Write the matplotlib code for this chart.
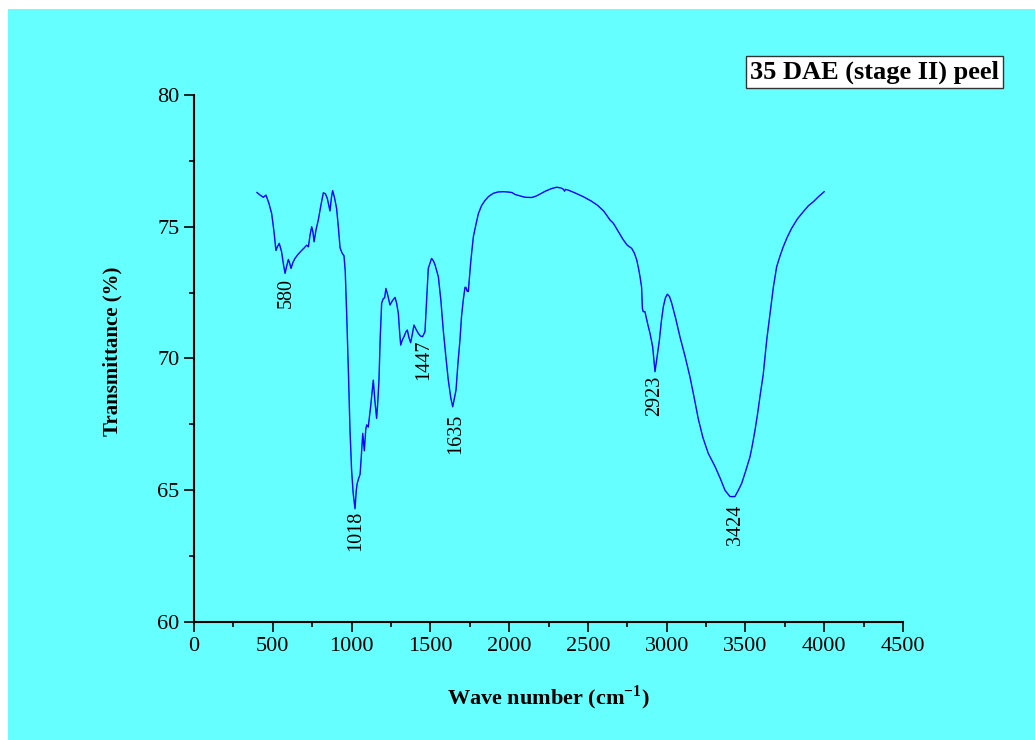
import numpy as np
import matplotlib
matplotlib.use("Agg")
import matplotlib.pyplot as plt
from matplotlib.patches import Rectangle
from matplotlib.ticker import MultipleLocator

# ---- data ----
wavenumber = [
    400, 420, 440, 457, 475, 493, 508, 520, 530, 541, 556, 567, 578, 588, 599, 608, 616, 628,
    641, 660, 683, 700, 715, 726, 737, 747, 755, 762, 775, 789, 805, 821, 834, 846, 856, 863,
    872, 880, 892, 905, 916, 927, 940, 952, 960, 969, 980, 990, 1000, 1010, 1022, 1030, 1036,
    1045, 1054, 1062, 1071, 1081, 1090, 1096, 1106, 1114, 1121, 1130, 1138, 1148, 1159, 1166,
    1174, 1182, 1191, 1202, 1210, 1218, 1230, 1244, 1260, 1276, 1286, 1297, 1305, 1312, 1322,
    1333, 1344, 1354, 1364, 1375, 1385, 1396, 1410, 1424, 1438, 1451, 1466, 1477, 1487, 1497,
    1508, 1520, 1530, 1551, 1567, 1582, 1598, 1614, 1630, 1642, 1653, 1663, 1675, 1688, 1698,
    1709, 1720, 1726, 1734, 1741, 1757, 1773, 1790, 1805, 1825, 1847, 1870, 1900, 1930, 1964,
    1990, 2017, 2040, 2069, 2100, 2143, 2170, 2196, 2230, 2270, 2302, 2330, 2345, 2352, 2358,
    2380, 2420, 2471, 2520, 2560, 2600, 2640, 2662, 2690, 2725, 2750, 2778, 2795, 2810, 2822,
    2831, 2841, 2846, 2851, 2862, 2880, 2894, 2911, 2926, 2940, 2954, 2966, 2979, 2992, 3004,
    3018, 3032, 3058, 3084, 3116, 3148, 3175, 3201, 3230, 3264, 3290, 3307, 3340, 3370, 3402,
    3433, 3455, 3476, 3500, 3529, 3545, 3561, 3577, 3592, 3613, 3635, 3656, 3677, 3698, 3720,
    3740, 3765, 3793, 3830, 3867, 3900, 3931, 3965, 4000,
]
transmittance = [
    76.30, 76.20, 76.12, 76.20, 75.90, 75.50, 74.80, 74.10, 74.25, 74.37, 74.05, 73.60, 73.23,
    73.50, 73.76, 73.60, 73.42, 73.65, 73.80, 73.95, 74.10, 74.20, 74.30, 74.24, 74.70, 75.00,
    74.80, 74.43, 74.90, 75.26, 75.80, 76.29, 76.25, 76.08, 75.80, 75.60, 76.10, 76.37, 76.10,
    75.70, 75.00, 74.20, 74.00, 73.90, 73.30, 71.70, 69.50, 67.30, 65.80, 64.90, 64.30, 65.00,
    65.26, 65.45, 65.60, 66.30, 67.16, 66.50, 67.30, 67.48, 67.40, 67.80, 68.17, 68.70, 69.18,
    68.40, 67.73, 68.30, 69.18, 70.80, 72.10, 72.28, 72.30, 72.66, 72.40, 72.03, 72.20, 72.32,
    72.10, 71.71, 71.00, 70.51, 70.70, 70.83, 71.00, 71.08, 70.80, 70.60, 70.90, 71.27, 71.10,
    70.95, 70.85, 70.83, 71.02, 72.30, 73.42, 73.60, 73.80, 73.70, 73.55, 73.10, 72.20, 71.08,
    70.10, 69.18, 68.50, 68.17, 68.50, 68.80, 69.80, 70.70, 71.60, 72.22, 72.70, 72.70, 72.55,
    72.54, 73.70, 74.62, 75.10, 75.50, 75.80, 76.00, 76.15, 76.27, 76.32, 76.33, 76.32, 76.30,
    76.22, 76.17, 76.12, 76.11, 76.16, 76.24, 76.35, 76.45, 76.50, 76.47, 76.42, 76.35, 76.42,
    76.38, 76.28, 76.14, 75.98, 75.82, 75.60, 75.26, 75.13, 74.85, 74.50, 74.30, 74.18, 74.00,
    73.74, 73.40, 73.10, 72.70, 71.90, 71.78, 71.78, 71.30, 70.96, 70.45, 69.50, 70.10, 70.70,
    71.40, 71.97, 72.30, 72.44, 72.35, 72.10, 71.50, 70.83, 70.10, 69.30, 68.50, 67.70, 67.00,
    66.40, 66.10, 65.90, 65.45, 65.00, 64.76, 64.76, 65.00, 65.26, 65.70, 66.27, 66.75, 67.29,
    67.90, 68.55, 69.40, 70.70, 71.70, 72.70, 73.48, 73.90, 74.24, 74.60, 74.94, 75.30, 75.57,
    75.80, 75.95, 76.15, 76.33,
]
peak_labels = [580, 1018, 1447, 1635, 2923, 3424]
x_ticks = [0, 500, 1000, 1500, 2000, 2500, 3000, 3500, 4000, 4500]
y_ticks = [60, 65, 70, 75, 80]
title_text = "35 DAE (stage II) peel"

# label offsets in points (style, not data)
label_offsets = {580: (0.5, -3), 1018: (0.5, -1.5), 1447: (1, -2), 1635: (2.5, -5),
                 2923: (0, -3), 3424: (4, -6)}

# ---- style ----
plt.rcParams['font.family'] = ['Liberation Serif', 'DejaVu Serif']
plt.rcParams['mathtext.fontset'] = 'custom'
plt.rcParams['mathtext.rm'] = 'Liberation Serif'
plt.rcParams['mathtext.bf'] = 'Liberation Serif:bold'

BG = '#66FFFF'
fig = plt.figure(figsize=(10.35, 7.40), dpi=100, facecolor='white')
fig.patches.append(Rectangle((8 / 1035, 0), 1, 1 - 9 / 740, transform=fig.transFigure,
                             facecolor=BG, edgecolor='none', zorder=-10))

ax = fig.add_axes([194 / 1035, 1 - 622 / 740, 709 / 1035, 527 / 740])
ax.set_facecolor(BG)
ax.patch.set_alpha(0)

wn = np.array(wavenumber)
tr = np.array(transmittance)
ax.plot(wn, tr, color='#0000FF', lw=1.0)

ax.set_xlim(0, 4500)
ax.set_ylim(60, 80)
ax.set_xticks(x_ticks)
ax.set_yticks(y_ticks)
ax.xaxis.set_minor_locator(MultipleLocator(250))
ax.yaxis.set_minor_locator(MultipleLocator(2.5))
for s in ['top', 'right']:
    ax.spines[s].set_visible(False)
for s in ['left', 'bottom']:
    ax.spines[s].set_linewidth(1.5)
ax.tick_params(which='major', direction='out', length=7, width=1.2, labelsize=16, pad=3.5)
ax.tick_params(which='minor', direction='out', length=3.3, width=1.2)

ax.set_xlabel(r"Wave number (cm$^{\mathbf{-1}}$)", fontsize=16, fontweight='bold')
ax.xaxis.set_label_coords(0.5, -0.117)
ax.set_ylabel("Transmittance (%)", fontsize=15, fontweight='bold')
ax.yaxis.set_label_coords(-0.101, 0.513)

for p in peak_labels:
    sel = (wn > p - 40) & (wn < p + 40)
    i = np.argmin(tr[sel])
    xm, ym = wn[sel][i], tr[sel][i]
    ax.annotate(str(p), xy=(xm, ym), xytext=label_offsets[p], textcoords='offset points',
                rotation=90, ha='center', va='top', fontsize=14.5)

fig.text(0.845, 1 - 72 / 740, title_text, fontsize=19, fontweight='bold',
         ha='center', va='center',
         bbox=dict(boxstyle='square,pad=0.15', facecolor='white', edgecolor='#333333', lw=1))

fig.savefig('out.png', dpi=100, facecolor=fig.get_facecolor())
